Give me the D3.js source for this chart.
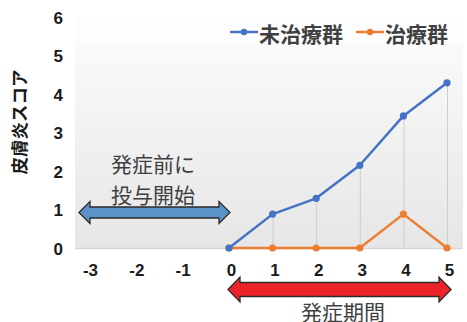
<!DOCTYPE html>
<html>
<head>
<meta charset="utf-8">
<script src="https://cdn.jsdelivr.net/npm/d3@7/dist/d3.min.js"></script>
<style>
  html, body { margin: 0; padding: 0; background: #ffffff; }
  svg { display: block; }
  text { font-family: "Liberation Sans", Arial, "Noto Sans CJK JP", sans-serif; }
  .jp { font-family: "Noto Sans CJK JP", "Noto Sans", sans-serif; }
</style>
</head>
<body>
<svg id="chart" width="467" height="322"></svg>
<script>
// Days relative to onset (0 = onset)
const days = [0, 1, 2, 3, 4, 5];
const untreated = [0, 0.88, 1.29, 2.15, 3.43, 4.29];
const treated = [0, 0, 0, 0, 0.88, 0];
const xTickLabels = [-3, -2, -1, 0, 1, 2, 3, 4, 5];
const yTickLabels = [0, 1, 2, 3, 4, 5, 6];
const seriesNames = ["未治療群", "治療群"];
const seriesColors = ["#4472c4", "#ed7d31"];
const yAxisTitle = "皮膚炎スコア";
const preOnsetLabel = ["発症前に", "投与開始"];
const onsetLabel = "発症期間";

const svg = d3.select("#chart");

const plot = { left: 75, right: 463, top: 17, bottom: 248 };

// Pre-onset days are drawn a bit wider apart than the onset period.
const x = d3.scaleLinear().domain([-3, 0, 5]).range([90, 229, 447]);
const y = d3.scaleLinear().domain([0, 6]).range([plot.bottom, plot.top]);

// Plot background: white band for the legend, soft grey gradient below
const defs = svg.append("defs");
const grad = defs.append("linearGradient")
  .attr("id", "bg").attr("x1", 0).attr("y1", 0).attr("x2", 0).attr("y2", 1);
grad.append("stop").attr("offset", "0%").attr("stop-color", "#fafafa");
grad.append("stop").attr("offset", "100%").attr("stop-color", "#e6e6e6");

svg.append("rect")
  .attr("x", plot.left).attr("y", plot.top)
  .attr("width", plot.right - plot.left).attr("height", 26)
  .attr("fill", "#fdfdfd");
svg.append("rect")
  .attr("x", plot.left).attr("y", plot.top + 26)
  .attr("width", plot.right - plot.left).attr("height", plot.bottom - plot.top - 26)
  .attr("fill", "url(#bg)");

// Baseline
svg.append("line")
  .attr("x1", plot.left).attr("x2", plot.right)
  .attr("y1", plot.bottom + 0.5).attr("y2", plot.bottom + 0.5)
  .attr("stroke", "#d6d6d6").attr("stroke-width", 1.5);

// Drop lines from each untreated point to the baseline
svg.append("g").selectAll("line")
  .data(days.filter(d => d > 0))
  .join("line")
  .attr("x1", d => x(d) + 0.5).attr("x2", d => x(d) + 0.5)
  .attr("y1", d => y(untreated[days.indexOf(d)]))
  .attr("y2", plot.bottom)
  .attr("stroke", "#cdcdcd").attr("stroke-width", 1);

// Y axis
const yAxis = d3.axisLeft(y).tickValues(yTickLabels).tickSize(0).tickPadding(0)
  .tickFormat(d => String(d));
const gy = svg.append("g").attr("transform", "translate(63,0)").call(yAxis);
gy.select(".domain").remove();
gy.selectAll("text")
  .attr("font-size", 17).attr("font-weight", "bold").attr("fill", "#1a1a1a")
  .attr("dy", "0.36em");

// X axis
const xAxis = d3.axisBottom(x).tickValues(xTickLabels).tickSize(0).tickPadding(0)
  .tickFormat(d => String(d));
const gx = svg.append("g").attr("transform", "translate(0,270)").call(xAxis);
gx.select(".domain").remove();
gx.selectAll("text")
  .attr("font-size", 17).attr("font-weight", "bold").attr("fill", "#1a1a1a")
  .attr("dy", "0.36em")
  .attr("dx", d => d < 0 ? 0 : 2);

// Y axis title
svg.append("text")
  .attr("class", "jp")
  .attr("transform", "translate(18,122) rotate(-90)")
  .attr("text-anchor", "middle").attr("dominant-baseline", "central")
  .attr("font-size", 17.5).attr("font-weight", "bold").attr("fill", "#1a1a1a")
  .text(yAxisTitle);

// Series
const series = [untreated, treated];
const line = d3.line().x((d, i) => x(days[i])).y(d => y(d));
// treated drawn first so the untreated line sits on top at the shared origin
[1, 0].forEach(k => {
  svg.append("path")
    .datum(series[k])
    .attr("d", line)
    .attr("fill", "none")
    .attr("stroke", seriesColors[k])
    .attr("stroke-width", 2.5)
    .attr("stroke-linejoin", "round");
  svg.append("g").selectAll("circle")
    .data(series[k])
    .join("circle")
    .attr("cx", (d, i) => x(days[i]))
    .attr("cy", d => y(d))
    .attr("r", 3.6)
    .attr("fill", seriesColors[k]);
});

// Legend
const legend = [
  { name: seriesNames[0], color: seriesColors[0], x0: 230 },
  { name: seriesNames[1], color: seriesColors[1], x0: 356 }
];
legend.forEach(l => {
  svg.append("line")
    .attr("x1", l.x0).attr("x2", l.x0 + 28)
    .attr("y1", 32).attr("y2", 32)
    .attr("stroke", l.color).attr("stroke-width", 2.5);
  svg.append("circle")
    .attr("cx", l.x0 + 14).attr("cy", 32).attr("r", 3.2).attr("fill", l.color);
  svg.append("text")
    .attr("class", "jp")
    .attr("x", l.x0 + 29).attr("y", 33)
    .attr("dominant-baseline", "central")
    .attr("font-size", 21).attr("font-weight", "bold").attr("fill", "#404040")
    .text(l.name);
});

// Double-headed arrows
function doubleArrow(x1, x2, cy, headLen, headHalf, shaftHalf, fill) {
  const p = [
    [x1, cy],
    [x1 + headLen, cy - headHalf],
    [x1 + headLen, cy - shaftHalf],
    [x2 - headLen, cy - shaftHalf],
    [x2 - headLen, cy - headHalf],
    [x2, cy],
    [x2 - headLen, cy + headHalf],
    [x2 - headLen, cy + shaftHalf],
    [x1 + headLen, cy + shaftHalf],
    [x1 + headLen, cy + headHalf]
  ];
  svg.append("path")
    .attr("d", "M" + p.map(q => q.join(",")).join("L") + "Z")
    .attr("fill", fill)
    .attr("stroke", "#2b2b2b").attr("stroke-width", 1.3)
    .attr("stroke-linejoin", "miter");
}

// Pre-onset dosing period: days -3 .. 0
doubleArrow(x(-3) - 11, x(0) + 1, 212.5, 11, 11, 5.5, "#5b93c9");
svg.append("g").selectAll("text")
  .data(preOnsetLabel)
  .join("text")
  .attr("class", "jp")
  .attr("x", 153).attr("y", (d, i) => 163 + i * 31)
  .attr("text-anchor", "middle").attr("dominant-baseline", "central")
  .attr("font-size", 21).attr("fill", "#3f3f3f")
  .text(d => d);

// Onset period: days 0 .. 5
doubleArrow(x(0) - 1, x(5) + 4, 289.5, 12, 12.5, 7, "#ec2328");
svg.append("text")
  .attr("class", "jp")
  .attr("x", 343).attr("y", 311)
  .attr("text-anchor", "middle").attr("dominant-baseline", "central")
  .attr("font-size", 21).attr("fill", "#3f3f3f")
  .text(onsetLabel);
</script>
</body>
</html>
